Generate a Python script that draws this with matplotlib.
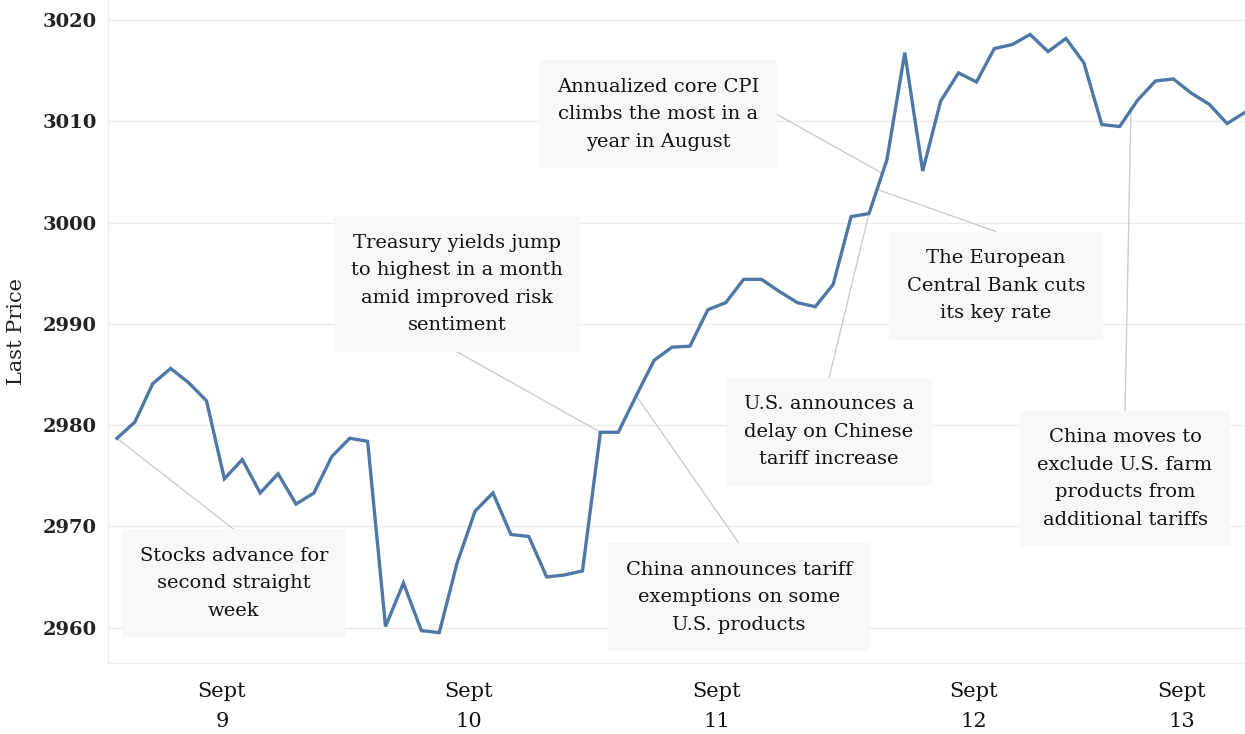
import matplotlib.pyplot as plt
import numpy as np

# S&P 500 intraday, Sept 9-13
prices = [2978.7, 2980.3, 2984.1, 2985.6, 2984.2, 2982.4, 2974.7, 2976.6, 2973.3, 2975.2,
          2972.2, 2973.3, 2976.9, 2978.7, 2978.4, 2960.1, 2964.4, 2959.7, 2959.5, 2966.4,
          2971.5, 2973.3, 2969.2, 2969.0, 2965.0, 2965.2, 2965.6, 2979.3, 2979.3, 2982.9,
          2986.4, 2987.7, 2987.8, 2991.4, 2992.1, 2994.4, 2994.4, 2993.2, 2992.1, 2991.7,
          2993.9, 3000.6, 3000.9, 3006.2, 3016.8, 3005.1, 3012.0, 3014.8, 3013.9, 3017.2,
          3017.6, 3018.6, 3016.9, 3018.2, 3015.8, 3009.7, 3009.5, 3012.1, 3014.0, 3014.2,
          3012.8, 3011.7, 3009.8, 3010.9]
x = np.arange(len(prices))

day_labels = ['Sept\n9', 'Sept\n10', 'Sept\n11', 'Sept\n12', 'Sept\n13']
day_pos = [5.87, 19.66, 33.51, 47.86, 59.48]
yticks = [2960, 2970, 2980, 2990, 3000, 3010, 3020]

notes = ['Stocks advance for\nsecond straight\nweek',
         'Treasury yields jump\nto highest in a month\namid improved risk\nsentiment',
         'China announces tariff\nexemptions on some\nU.S. products',
         'Annualized core CPI\nclimbs the most in a\nyear in August',
         'The European\nCentral Bank cuts\nits key rate',
         'U.S. announces a\ndelay on Chinese\ntariff increase',
         'China moves to\nexclude U.S. farm\nproducts from\nadditional tariffs']
note_at = [0, 27, 29, 42.75, 42.45, 42, 56.63]          # where the leader hits the line
note_box = [(6.53, 2964.37), (18.99, 2993.94), (34.74, 2962.99), (30.21, 3010.72),
            (49.09, 2993.79), (39.77, 2979.33), (56.30, 2974.74)]
note_side = ['top', 'bottom', 'top', 'right', 'top', 'top', 'top']

LINE = '#4e79a7'
FONT = 'DejaVu Serif'

fig = plt.figure(figsize=(12.45, 7.34), dpi=100)
ax = fig.add_axes([108/1245, 71/734, 1 - 108/1245, 1 - 71/734])

ax.plot(x, prices, color=LINE, lw=2.4, solid_joinstyle='miter', zorder=3)

ax.set_xlim(-0.5, 63)
ax.set_ylim(2956.5, 3022.0)

boxes = []
for txt, (bx, by) in zip(notes, note_box):
    t = ax.text(bx, by, txt, ha='center', va='center', fontsize=14, family=FONT,
                color='#111111', linespacing=1.68, zorder=4,
                bbox=dict(boxstyle='square,pad=0.9', fc='#f8f8f8', ec='none'))
    boxes.append(t)

# leader lines from the middle of the box edge to the line
fig.canvas.draw()
renderer = fig.canvas.get_renderer()
inv = ax.transData.inverted()
for t, at, side in zip(boxes, note_at, note_side):
    bb = t.get_bbox_patch().get_window_extent(renderer)
    edge = {'top': ((bb.x0 + bb.x1) / 2, bb.y1),
            'bottom': ((bb.x0 + bb.x1) / 2, bb.y0),
            'right': (bb.x1, (bb.y0 + bb.y1) / 2)}[side]
    ex, ey = inv.transform(edge)
    ax.plot([ex, at], [ey, np.interp(at, x, prices)], color='#cccccc', lw=1, zorder=2)

ax.set_yticks(yticks)
ax.set_yticklabels([str(v) for v in yticks], family=FONT, fontsize=14,
                   fontweight='bold', color='#222222')
ax.set_xticks(day_pos)
ax.set_xticklabels(day_labels, family=FONT, fontsize=15, color='#111111',
                   linespacing=1.7)
ax.tick_params(axis='both', length=0)
ax.tick_params(axis='y', pad=8)
ax.tick_params(axis='x', pad=14)
ax.set_ylabel('Last Price', family=FONT, fontsize=15, color='#222222', labelpad=12)
ax.grid(axis='y', color='#ececec', lw=1, zorder=0)
for side in ['top', 'right']:
    ax.spines[side].set_visible(False)
for side in ['left', 'bottom']:
    ax.spines[side].set_color('#eeeeee')
ax.set_xlim(-0.5, 63)
ax.set_ylim(2956.5, 3022.0)

fig.savefig('out.png', dpi=100)
